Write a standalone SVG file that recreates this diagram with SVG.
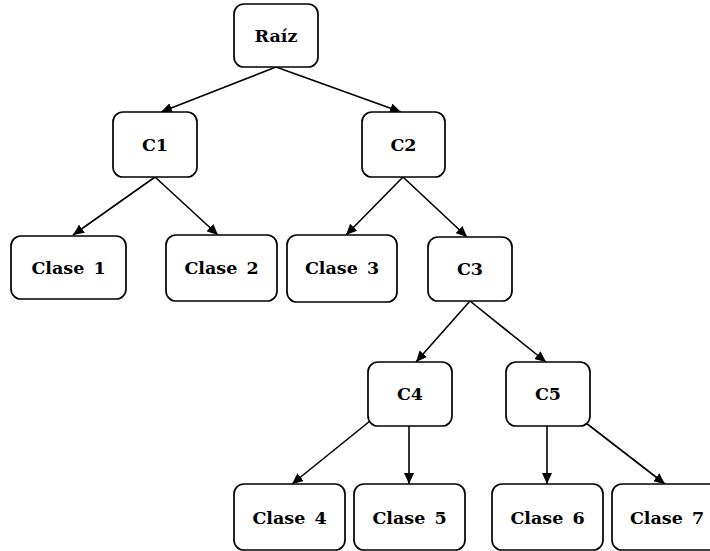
<svg xmlns="http://www.w3.org/2000/svg" width="710" height="551" viewBox="0 0 710 551">
  <style>
    .box { fill: #ffffff; stroke: #000000; stroke-width: 1.7; }
    .lbl { font-family: "DejaVu Serif", "Liberation Serif", serif; font-weight: bold; font-size: 17.5px; word-spacing: 3px; fill: #000000; text-anchor: middle; }
    .edge { fill: none; stroke: #000000; stroke-width: 1.6; marker-end: url(#arrow); }
  </style>
  <defs>
    <marker id="arrow" markerUnits="userSpaceOnUse" markerWidth="12" markerHeight="10" refX="11" refY="5" orient="auto">
      <path d="M0,0 L11,5 L0,10 Z" fill="#000000"/>
    </marker>
  </defs>
  <rect width="710" height="551" fill="#ffffff"/>

  <!-- connectors -->
  <g id="edges">
    <line class="edge" x1="276" y1="67" x2="161" y2="112"/>
    <line class="edge" x1="276" y1="67" x2="401" y2="112"/>
    <line class="edge" x1="155" y1="177" x2="73" y2="235"/>
    <line class="edge" x1="155" y1="177" x2="218" y2="235"/>
    <line class="edge" x1="403" y1="177" x2="346" y2="235"/>
    <line class="edge" x1="403" y1="177" x2="467" y2="237"/>
    <line class="edge" x1="470" y1="301" x2="416" y2="362"/>
    <line class="edge" x1="470" y1="301" x2="546" y2="362"/>
    <line class="edge" x1="370" y1="421" x2="292" y2="484"/>
    <line class="edge" x1="409" y1="426" x2="409" y2="484"/>
    <line class="edge" x1="547" y1="426" x2="547" y2="484"/>
    <line class="edge" x1="586" y1="423" x2="665" y2="484"/>
  </g>

  <!-- nodes -->
  <g id="raiz">
    <rect class="box" x="234" y="4" width="84" height="63" rx="10"/>
    <text class="lbl" x="276" y="42">Raíz</text>
  </g>
  <g id="c1">
    <rect class="box" x="113" y="112" width="84" height="65" rx="10"/>
    <text class="lbl" x="155" y="151">C1</text>
  </g>
  <g id="c2">
    <rect class="box" x="362" y="112" width="83" height="65" rx="10"/>
    <text class="lbl" x="403.5" y="151">C2</text>
  </g>
  <g id="clase1">
    <rect class="box" x="11" y="236" width="115" height="63" rx="10"/>
    <text class="lbl" x="68.5" y="274">Clase 1</text>
  </g>
  <g id="clase2">
    <rect class="box" x="166" y="235" width="111" height="66" rx="10"/>
    <text class="lbl" x="221.5" y="274">Clase 2</text>
  </g>
  <g id="clase3">
    <rect class="box" x="287" y="235" width="110" height="67" rx="10"/>
    <text class="lbl" x="342" y="274">Clase 3</text>
  </g>
  <g id="c3">
    <rect class="box" x="428" y="237" width="84" height="64" rx="10"/>
    <text class="lbl" x="470" y="275">C3</text>
  </g>
  <g id="c4">
    <rect class="box" x="368" y="362" width="84" height="64" rx="10"/>
    <text class="lbl" x="410" y="400">C4</text>
  </g>
  <g id="c5">
    <rect class="box" x="506" y="362" width="84" height="64" rx="10"/>
    <text class="lbl" x="548" y="400">C5</text>
  </g>
  <g id="clase4">
    <rect class="box" x="234" y="484" width="111" height="66" rx="10"/>
    <text class="lbl" x="289.5" y="524">Clase 4</text>
  </g>
  <g id="clase5">
    <rect class="box" x="354" y="484" width="111" height="66" rx="10"/>
    <text class="lbl" x="409.5" y="524">Clase 5</text>
  </g>
  <g id="clase6">
    <rect class="box" x="492" y="484" width="111" height="66" rx="10"/>
    <text class="lbl" x="547.5" y="524">Clase 6</text>
  </g>
  <g id="clase7">
    <rect class="box" x="612" y="484" width="110" height="66" rx="10"/>
    <text class="lbl" x="667" y="524">Clase 7</text>
  </g>
</svg>
